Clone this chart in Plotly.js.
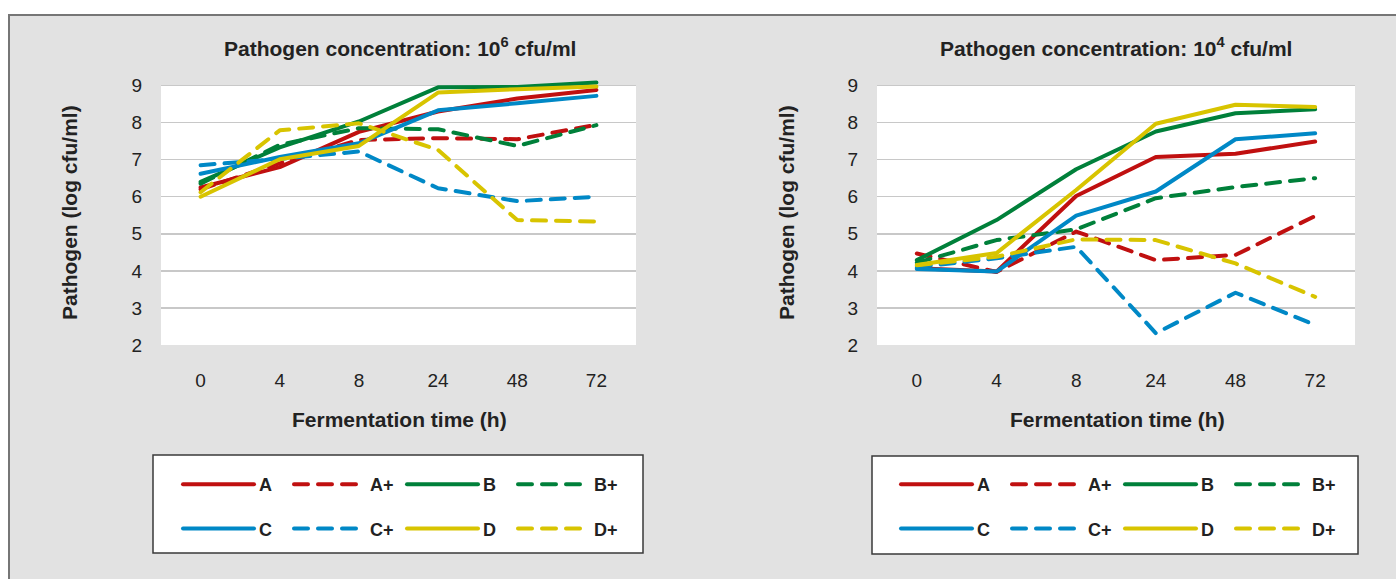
<!DOCTYPE html>
<html>
<head>
<meta charset="utf-8">
<script src="https://cdn.plot.ly/plotly-3.0.1.min.js"></script>
<style>
  html, body { margin: 0; padding: 0; background: #ffffff; }
  #chart { width: 1396px; height: 579px; }
  .js-line { stroke-linecap: round; stroke-linejoin: round; }
</style>
</head>
<body>
<div id="chart"></div>
<script>
// ---------------- data ----------------
const times = ['0', '4', '8', '24', '48', '72'];
const seriesNames = ['A', 'A+', 'B', 'B+', 'C', 'C+', 'D', 'D+'];

// Pathogen concentration 10^6 cfu/ml (log cfu/ml)
const hi_A  = [6.25, 6.80, 7.75, 8.30, 8.65, 8.88];
const hi_Ap = [6.20, 6.90, 7.53, 7.58, 7.55, 7.94];
const hi_B  = [6.40, 7.33, 8.03, 8.95, 8.96, 9.08];
const hi_Bp = [6.35, 7.40, 7.85, 7.82, 7.37, 7.93];
const hi_C  = [6.62, 7.07, 7.44, 8.33, 8.52, 8.72];
const hi_Cp = [6.85, 7.02, 7.22, 6.23, 5.88, 6.00];
const hi_D  = [6.00, 7.01, 7.37, 8.81, 8.90, 8.97];
const hi_Dp = [6.12, 7.79, 7.98, 7.26, 5.37, 5.33];

// Pathogen concentration 10^4 cfu/ml (log cfu/ml)
const lo_A  = [4.07, 3.98, 6.02, 7.07, 7.16, 7.49];
const lo_Ap = [4.47, 3.97, 5.06, 4.29, 4.43, 5.48];
const lo_B  = [4.29, 5.37, 6.74, 7.76, 8.25, 8.36];
const lo_Bp = [4.22, 4.83, 5.12, 5.96, 6.26, 6.50];
const lo_C  = [4.05, 3.98, 5.49, 6.14, 7.55, 7.71];
const lo_Cp = [4.10, 4.34, 4.65, 2.32, 3.41, 2.54];
const lo_D  = [4.16, 4.48, 6.18, 7.97, 8.48, 8.42];
const lo_Dp = [4.15, 4.38, 4.85, 4.83, 4.20, 3.30];

const yTicks = [2, 3, 4, 5, 6, 7, 8, 9];

// ---------------- styling ----------------
const W = 1396, H = 579;
const px = v => v / W;
const py = v => 1 - v / H;

const colors = { A: '#c01010', B: '#00803a', C: '#0088c6', D: '#d8c400' };
const DASH = '14px,10px';
const LW = 4;
const FONT = '"Liberation Sans", Arial, Helvetica, sans-serif';
const TXT = '#222222';

// legend column of each series (col index 0..3)
const legendCol = { 'A': 0, 'C': 0, 'A+': 1, 'C+': 1, 'B': 2, 'D': 2, 'B+': 3, 'D+': 3 };

function buildTraces(values, xa, ya, legendBase, tag) {
  return seriesNames.map((name, i) => {
    const base = name.charAt(0);
    const dashed = name.length > 1;
    const col = legendCol[name];
    const idx = legendBase + col;
    const lg = idx === 1 ? 'legend' : 'legend' + idx;
    return {
      type: 'scatter', mode: 'lines',
      x: times, y: values[i], name: name,
      xaxis: xa, yaxis: ya,
      legend: lg, legendgroup: tag + name,
      line: { color: colors[base], width: LW, dash: dashed ? DASH : 'solid' },
      hoverinfo: 'skip'
    };
  });
}

const traces = [].concat(
  buildTraces([hi_A, hi_Ap, hi_B, hi_Bp, hi_C, hi_Cp, hi_D, hi_Dp], 'x', 'y', 1, 'hi'),
  buildTraces([lo_A, lo_Ap, lo_B, lo_Bp, lo_C, lo_Cp, lo_D, lo_Dp], 'x2', 'y2', 5, 'lo')
);

const L1 = [161, 636], L2 = [877, 1355];
const PT = 85.5, PB = 345;           // pixel rows of y=9 and y=2
const YMAX = 9.25;                    // headroom so lines above 9 are not clipped
const PTOP = PT - (YMAX - 9) * (PB - PT) / 7;

function xAxis(dom, anchor) {
  return {
    domain: [px(dom[0]), px(dom[1])], anchor: anchor,
    type: 'category', categoryorder: 'array', categoryarray: times,
    range: [-0.5, 5.5], showgrid: false, zeroline: false, showline: false,
    ticks: '', ticklabelstandoff: 22,
    tickfont: { family: FONT, size: 19, color: TXT }, fixedrange: true
  };
}
function yAxis(anchor) {
  return {
    domain: [py(PB), py(PTOP)], anchor: anchor,
    range: [2, YMAX], tickvals: yTicks, ticktext: yTicks.map(String),
    showgrid: true, gridcolor: '#c8c8c8', gridwidth: 1.5,
    zeroline: false, showline: false, ticks: '', ticklabelstandoff: 18,
    tickfont: { family: FONT, size: 19, color: TXT }, fixedrange: true
  };
}

function legendAt(xpx, ypx) {
  return {
    x: px(xpx), y: py(ypx), xanchor: 'left', yanchor: 'top',
    xref: 'paper', yref: 'paper', orientation: 'v',
    bgcolor: 'rgba(0,0,0,0)', borderwidth: 0,
    itemwidth: 71, traceorder: 'grouped', tracegroupgap: 18,
    font: { family: FONT, size: 18, color: TXT, weight: 'bold' },
    itemclick: false, itemdoubleclick: false
  };
}

const legendXs = [178, 289, 402, 513, 896, 1007, 1120, 1231];
const LEG_TOP = 466;
const TFS = 21;

function ann(text, x, y, angle) {
  return { text: text, x: px(x), y: py(y), textangle: angle || 0,
    xref: 'paper', yref: 'paper', showarrow: false, xanchor: 'center', yanchor: 'middle',
    font: { family: FONT, size: TFS, color: TXT, weight: 'bold' } };
}

const layout = {
  width: W, height: H,
  margin: { l: 0, r: 0, t: 0, b: 0, pad: 0 },
  paper_bgcolor: '#ffffff', plot_bgcolor: 'rgba(0,0,0,0)',
  showlegend: true, hovermode: false,
  xaxis: xAxis(L1, 'y'), yaxis: yAxis('x'),
  xaxis2: xAxis(L2, 'y2'), yaxis2: yAxis('x2'),
  shapes: [
    { type: 'rect', xref: 'paper', yref: 'paper', layer: 'below',
      x0: px(9), x1: px(1400), y0: py(15), y1: py(585),
      fillcolor: '#e2e2e2', line: { color: '#767676', width: 2 } },
    { type: 'rect', xref: 'paper', yref: 'paper', layer: 'below',
      x0: px(L1[0]), x1: px(L1[1]), y0: py(PB), y1: py(PT),
      fillcolor: '#ffffff', line: { width: 0 } },
    { type: 'rect', xref: 'paper', yref: 'paper', layer: 'below',
      x0: px(L2[0]), x1: px(L2[1]), y0: py(PB), y1: py(PT),
      fillcolor: '#ffffff', line: { width: 0 } },
    { type: 'rect', xref: 'paper', yref: 'paper', layer: 'below',
      x0: px(153), x1: px(643), y0: py(553), y1: py(455),
      fillcolor: '#ffffff', line: { color: '#3a3a3a', width: 1.5 } },
    { type: 'rect', xref: 'paper', yref: 'paper', layer: 'below',
      x0: px(872), x1: px(1358), y0: py(554), y1: py(456),
      fillcolor: '#ffffff', line: { color: '#3a3a3a', width: 1.5 } }
  ],
  annotations: [
    ann('Pathogen concentration: 10<sup>6</sup> cfu/ml', (L1[0] + L1[1]) / 2 + 1, 47),
    ann('Pathogen concentration: 10<sup>4</sup> cfu/ml', (L2[0] + L2[1]) / 2, 47),
    ann('Fermentation time (h)', 399, 419),
    ann('Fermentation time (h)', 1117, 419),
    ann('Pathogen (log cfu/ml)', 70, 213, -90),
    ann('Pathogen (log cfu/ml)', 787, 213, -90)
  ]
};

layout.legend = legendAt(legendXs[0], LEG_TOP);
for (let k = 2; k <= 8; k++) layout['legend' + k] = legendAt(legendXs[k - 1], LEG_TOP);

Plotly.newPlot('chart', traces, layout, { staticPlot: true, displayModeBar: false });
</script>
</body>
</html>
